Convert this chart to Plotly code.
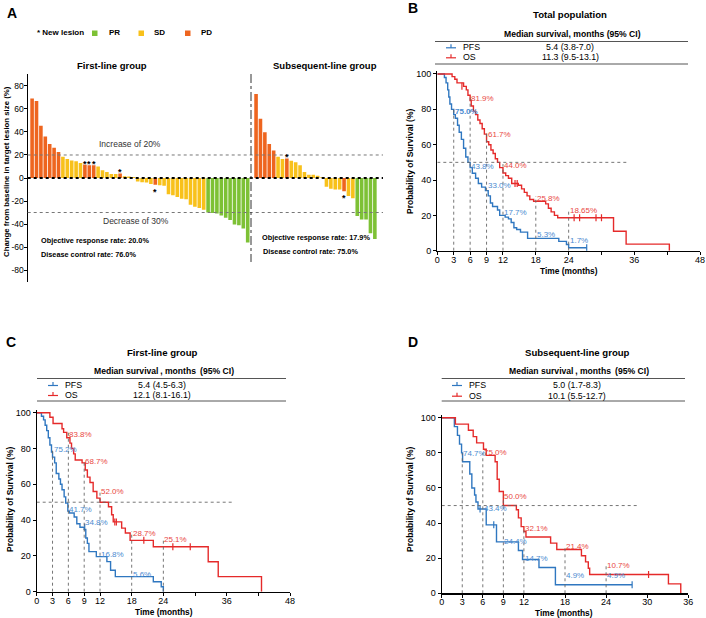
import plotly.graph_objects as go

W, H = 706, 618
FONT = "Liberation Sans, Arial, sans-serif"

# ---------------- Panel A : waterfall data ----------------
first_change = [69, 67, 45.5, 36, 29.5, 26.3, 22.6, 18.5, 16.5, 15.3, 14.5, 13, 11.6, 11, 11, 10.1,
                6.7, 5.2, 3.5, 3.5, 4, 1.5, 1.2, 0.8,
                -3, -3.7, -4, -5.2, -5.8, -6.2, -6.8, -14.2, -15, -16.5, -18, -18.5, -23.2, -25, -26, -27.5,
                -30, -30.5, -30.8, -32.5, -34.5, -36.5, -40.5, -41, -44, -56]
first_response = ("PD PD PD PD PD PD PD SD SD SD SD SD PD PD PD SD SD SD SD SD PD SD SD SD "
                  "SD SD SD SD PD SD SD SD SD SD SD SD SD SD SD SD "
                  "PR PR PR PR PR PR PR PR PR PR").split()
first_new_lesion = [12, 13, 14, 20, 28]

sub_change = [73, 51.6, 39.7, 29.6, 23.8, 18.5, 16.5, 17, 15, 13.6, 11, 5.2, 2.9, 2.9, 2, 0.6,
              -7.5, -9.3, -10, -10, -11.5, -15.6, -17.6, -33, -36, -36, -48, -53]
sub_response = ("PD PD PD PD PD SD SD PD SD SD SD SD SD SD SD SD "
                "SD SD SD SD PD SD SD PR PR PR PR PR").split()
sub_new_lesion = [7, 20]

y_ticks_A = [-80, -60, -40, -20, 0, 20, 40, 60, 80]
threshold_up, threshold_down = 20, -30

# ---------------- Panel B : total population ----------------
B_pfs_t = [0, 1.3, 1.6, 1.9, 2.1, 2.3, 2.6, 3.0, 3.3, 3.7, 4.0, 4.4, 4.8, 5.2, 5.6, 6.0, 6.4, 7.0, 7.5, 8.1,
           8.8, 9.3, 9.7, 10.1, 11.0, 11.4, 12.4, 13.0, 13.5, 14.0, 14.5, 15.2, 16.5, 22.2, 23.6, 24.0, 27.3]
B_pfs_s = [100, 98, 95, 91, 87, 83, 80, 77, 75, 71, 67, 63, 58, 53, 50, 47, 43.8, 41, 38, 36,
           34, 31, 27, 25, 23, 20, 19, 18, 16, 13, 12, 10.5, 7, 5.3, 3.5, 1.7, 1.7]
B_os_t = [0, 2.7, 3.2, 3.6, 4.8, 5.3, 5.6, 6.0, 6.2, 6.6, 7.0, 7.4, 7.8, 8.2, 8.6, 9.0, 9.4, 9.8, 10.2, 10.6,
          11.0, 11.4, 12.0, 12.5, 13.0, 13.6, 14.8, 15.4, 15.9, 16.4, 16.9, 17.6, 19.8, 20.3, 20.8, 21.4,
          22.0, 32.2, 34.5, 42.4]
B_os_s = [100, 98.5, 97, 95, 93, 91, 88, 85, 81.9, 79, 77, 74, 72, 69, 66, 61.7, 60, 57, 55, 52,
          50, 47, 44, 42.5, 41, 38, 37, 35, 33, 31, 29, 28, 26.5, 24, 22, 20,
          18.65, 11, 3.7, 0]
B_pfs_cens_t, B_pfs_cens_s = [27.3], [1.7]
B_os_cens_t = [4.5, 14.2, 14.6, 25.0, 26.0, 29.0, 30.0]
B_os_cens_s = [93, 38, 38, 18.65, 18.65, 18.65, 18.65]
B_pfs_marks_t = [3, 6, 9, 12, 18, 24]
B_pfs_marks = ["<b>75.0%</b>", "43.8%", "33.0%", "17.7%", "5.3%", "1.7%"]
B_os_marks_t = [6, 9, 12, 18, 24]
B_os_marks = ["81.9%", "61.7%", "44.0%", "25.8%", "18.65%"]
B_median = ["5.4 (3.8-7.0)", "11.3 (9.5-13.1)"]

# ---------------- Panel C : first-line group ----------------
C_pfs_t = [0, 0.9, 1.3, 1.6, 1.9, 2.2, 2.5, 2.8, 3.0, 3.4, 3.7, 4.2, 4.5, 4.8, 5.2, 5.5, 5.9, 6.2, 7.1, 7.6,
           8.2, 9.0, 9.3, 9.6, 9.9, 11.3, 13.3, 14.0, 14.9, 22.1, 23.6, 24.0]
C_pfs_s = [100, 98, 96, 93, 90, 86, 82, 78, 75.2, 72, 66, 63, 60, 57, 53, 49.5, 45, 44, 41.7, 38,
           36, 34.8, 30, 27, 22.4, 19.6, 16.8, 12, 8.4, 5.6, 2.8, 0]
C_os_t = [0, 2.5, 3.1, 4.8, 5.1, 5.7, 6.3, 6.6, 7.0, 7.3, 8.6, 9.2, 9.6, 10.1, 10.7, 11.4, 12.0, 13.6, 14.2,
          14.5, 16.1, 16.8, 17.7, 22.1, 32.5, 34.4, 42.6]
C_os_s = [100, 97.5, 94, 91, 89, 86, 83, 80, 77, 73.6, 72, 68, 64, 61, 56, 52.3, 50, 47.5, 43,
          39, 35.5, 32.8, 28.7, 25.1, 16.7, 8.4, 0]
C_pfs_cens_t, C_pfs_cens_s = [9.1], [36]
C_os_cens_t = [14.8, 15.1, 20.3, 25.8, 29.1]
C_os_cens_s = [39, 39, 28.7, 25.1, 25.1]
C_pfs_marks_t = [3, 6, 9, 12, 18]
C_pfs_marks = ["75.2%", "41.7%", "34.8%", "16.8%", "5.6%"]
C_os_marks_t = [6, 9, 12, 18, 24]
C_os_marks = ["83.8%", "68.7%", "52.0%", "28.7%", "25.1%"]
C_median = ["5.4 (4.5-6.3)", "12.1 (8.1-16.1)"]

# ---------------- Panel D : subsequent-line group ----------------
D_pfs_t = [0, 1.85, 2.3, 2.6, 2.9, 3.05, 4.1, 4.4, 4.8, 5.0, 5.3, 6.5, 8.0, 11.2, 11.8, 14.2, 16.6, 27.8]
D_pfs_s = [100, 95, 90, 85, 80, 75, 68, 60, 56, 52, 48, 39, 29.3, 24.4, 19.3, 14.7, 4.9, 4.9]
D_os_t = [0, 2.0, 3.9, 4.6, 5.1, 6.1, 6.5, 7.8, 8.1, 8.4, 9.0, 10.9, 11.2, 11.6, 12.0, 12.3, 15.9, 16.8,
          20.4, 21.0, 21.4, 21.6, 33.1, 34.9]
D_os_s = [100, 96.4, 92.9, 89.3, 85.7, 82.1, 78.6, 75, 65, 58, 50, 47.6, 43, 38, 35.2, 32.1, 28.6, 25,
          21.4, 17.9, 14.3, 10.7, 5.4, 0]
D_pfs_cens_t, D_pfs_cens_s = [5.6, 7.6, 27.8], [48, 39, 4.9]
D_os_cens_t, D_os_cens_s = [30.2], [10.7]
D_pfs_marks_t = [3, 6, 9, 12, 18, 24]
D_pfs_marks = ["74.7%", "43.4%", "24.4%", "14.7%", "4.9%", "4.9%"]
D_os_marks_t = [6, 9, 12, 18, 24]
D_os_marks = ["75.0%", "50.0%", "32.1%", "21.4%", "10.7%"]
D_median = ["5.0 (1.7-8.3)", "10.1 (5.5-12.7)"]

# ---------------- styling ----------------
RESP_COLORS = {"PR": "#7DC135", "SD": "#F8C11B", "PD": "#EE651F"}
BLUE, RED = "#2F77C0", "#E52A2A"
BLUE_T, RED_T = "#4B8BD0", "#E9473F"
GRID = "#666666"


def px_x(p):
    return p / W


def px_y(p):
    return 1 - p / H


def pct(lab):
    return float(lab.replace("<b>", "").replace("</b>", "").rstrip("%"))


fig = go.Figure()
shapes, annos = [], []


def text(px, py, s, size=9, bold=False, xanchor="center", color="black", angle=0):
    annos.append(dict(xref="paper", yref="paper", x=px_x(px), y=px_y(py), text=f"<b>{s}</b>" if bold else s,
                      showarrow=False, xanchor=xanchor, yanchor="middle", textangle=angle,
                      font=dict(size=size, color=color, family=FONT)))


def pline(x0, y0, x1, y1, color="black", width=1, dash="solid"):
    shapes.append(dict(type="line", xref="paper", yref="paper", x0=px_x(x0), y0=px_y(y0), x1=px_x(x1),
                       y1=px_y(y1), line=dict(color=color, width=width, dash=dash)))


# ---------------- Panel A ----------------
group_gap = 0.9
first_x = list(range(len(first_change)))
sub_x = [len(first_change) + group_gap + j for j in range(len(sub_change))]
for xs, vals, resp, stars in [(first_x, first_change, first_response, first_new_lesion),
                              (sub_x, sub_change, sub_response, sub_new_lesion)]:
    fig.add_trace(go.Bar(x=xs, y=vals, width=0.82, marker=dict(color=[RESP_COLORS[r] for r in resp], line_width=0),
                         xaxis="x", yaxis="y", hoverinfo="skip"))
    for i in stars:
        v = vals[i]
        annos.append(dict(xref="x", yref="y", x=xs[i], y=v, text="<b>*</b>", showarrow=False,
                          yanchor="bottom" if v > 0 else "top", yshift=-6 if v > 0 else 0,
                          font=dict(size=9, color="black", family=FONT)))

divider_x = len(first_change) - 0.25
for lvl in (threshold_up, threshold_down):
    shapes.append(dict(type="line", xref="x domain", yref="y", x0=0, x1=1, y0=lvl, y1=lvl,
                       line=dict(color="#777777", width=1, dash="dot")))
shapes.append(dict(type="line", xref="x domain", yref="y", x0=0, x1=1, y0=0, y1=0,
                   line=dict(color="black", width=1.8, dash="dot")))
shapes.append(dict(type="line", xref="x", yref="y", x0=divider_x, x1=divider_x, y0=90.4, y1=-73,
                   line=dict(color="#333333", width=1, dash="dashdot")))

text(12, 13, "A", 14, True)
text(35, 33, "* New lesion", 8, True, "left")
for sq_x, lab_x, key in [(92, 107, "PR"), (138.5, 152, "SD"), (185, 199, "PD")]:
    shapes.append(dict(type="rect", xref="paper", yref="paper", x0=px_x(sq_x), x1=px_x(sq_x + 5.5),
                       y0=px_y(36), y1=px_y(30.5), fillcolor=RESP_COLORS[key], line_width=0))
    text(lab_x, 33, key, 8, True, "left")
text(112, 65, "First-line group", 9.5, True)
text(325, 65, "Subsequent-line group", 9.5, True)
text(130, 144, "Increase of 20%", 8.5, False, color="#333333")
text(136, 221, "Decrease of 30%", 8.5, False, color="#333333")
text(39, 240.5, "Objective response rate: 20.0%", 7.3, True, "left")
text(39, 254.5, "Disease control rate: 76.0%", 7.3, True, "left")
text(260, 237.5, "Objective response rate: 17.9%", 7.3, True, "left")
text(261, 251.5, "Disease control rate: 75.0%", 7.3, True, "left")
text(6, 172, "Change from baseline in target lesion size (%)", 7.8, True, angle=-90)

axis_common = dict(showline=True, linecolor="black", linewidth=1.2, ticks="outside", ticklen=3, tickwidth=1,
                   tickcolor="black", showgrid=False, zeroline=False, fixedrange=True,
                   tickfont=dict(size=9, family=FONT, color="black"))

layout_axes = dict(
    xaxis=dict(domain=[px_x(27.7), px_x(383)], range=[-1.0, 79.75], visible=False, fixedrange=True),
    yaxis=dict(domain=[px_y(282), px_y(74)], range=[-90.4, 90.4], anchor="x",
               tickvals=y_ticks_A, ticktext=[str(v) for v in y_ticks_A], ticklabelstandoff=-2,
               **{**axis_common, "tickfont": dict(size=8.5, family=FONT, color="black")}),
)


# ---------------- KM panels ----------------
def km_panel(k, xdom, ydom_bottom, ydom_top_100, unit_px, xmax, xt, xtt, curves, cens, marks, median,
             letter, title, header, letter_xy, title_y, table_x, table_rows_y, sym_x, ytitle_x, ytitle_y,
             xtitle_xy, fifty_end, label_dy):
    xa, ya = f"x{k}", f"y{k}"
    ytop = 101.5
    layout_axes[f"xaxis{k}"] = dict(domain=[px_x(xdom[0]), px_x(xdom[1])], range=[0, xmax], anchor=ya,
                                    tickvals=xt, ticktext=xtt, ticklabelstandoff=-3, **axis_common)
    layout_axes[f"yaxis{k}"] = dict(domain=[px_y(ydom_bottom), px_y(ydom_top_100 - (ytop - 100) * unit_px)],
                                    range=[0, ytop], anchor=xa, tickvals=[0, 20, 40, 60, 80, 100],
                                    **axis_common)
    # reference lines
    shapes.append(dict(type="line", xref=xa, yref=ya, x0=0, x1=fifty_end, y0=50, y1=50,
                       line=dict(color=GRID, width=0.9, dash="dot")))
    heights = {}
    for (mt, ml, col) in marks:
        for t, lab in zip(mt, ml):
            heights[t] = max(heights.get(t, 0), pct(lab))
    for t, hgt in heights.items():
        shapes.append(dict(type="line", xref=xa, yref=ya, x0=t, x1=t, y0=0, y1=hgt + 5,
                           line=dict(color=GRID, width=0.9, dash="dot")))
    for (t, s, col) in curves:
        fig.add_trace(go.Scatter(x=t, y=s, mode="lines", line=dict(color=col, width=1.4, shape="hv"),
                                 xaxis=xa, yaxis=ya, hoverinfo="skip"))
    for (t, s, col) in cens:
        fig.add_trace(go.Scatter(x=t, y=s, mode="markers", xaxis=xa, yaxis=ya, hoverinfo="skip",
                                 marker=dict(symbol="line-ns", size=5, line=dict(color=col, width=1.2))))
    for (mt, ml, col) in marks:
        for t, lab in zip(mt, ml):
            annos.append(dict(xref=xa, yref=ya, x=t, y=pct(lab) + label_dy, text=lab,
                              showarrow=False, xanchor="left", yanchor="middle", xshift=-1,
                              font=dict(size=8, color=col, family=FONT)))
    # titles / table
    text(letter_xy[0], letter_xy[1], letter, 14, True)
    text(table_x[2], title_y, title, 9.6, True)
    text(table_x[2] + 2, title_y + 18.5, header, 8.6, True)
    pline(table_x[0], title_y + 26.5, table_x[1], title_y + 26.5, "#555555", 1)
    pline(table_x[0], title_y + 49, table_x[1], title_y + 49, "#555555", 1)
    for (ry, name, col, med) in zip(table_rows_y, ["PFS", "OS"], [BLUE, RED], median):
        pline(sym_x, ry + 0.5, sym_x + 10, ry + 0.5, col, 1.2)
        pline(sym_x + 5, ry + 0.5, sym_x + 5, ry - 3, col, 1.2)
        text(sym_x + 15, ry, name, 8.8, False, "left")
        text(table_x[2], ry, med, 8.8, False)
    text(ytitle_x, ytitle_y, "Probability of Survival (%)", 8.5, True, angle=-90)
    text(xtitle_xy[0], xtitle_xy[1], "Time (months)", 8.4, True)


km_panel(2, (437.3, 700), 250.7, 74, 1.767, 48,
         [0, 3, 6, 9, 12, 18, 24, 30, 36, 42, 48], ["0", "3", "6", "9", "12", "18", "24", "", "36", "", "48"],
         [(B_pfs_t, B_pfs_s, BLUE), (B_os_t, B_os_s, RED)],
         [(B_pfs_cens_t, B_pfs_cens_s, BLUE), (B_os_cens_t, B_os_cens_s, RED)],
         [(B_pfs_marks_t, B_pfs_marks, BLUE_T), (B_os_marks_t, B_os_marks, RED_T)],
         B_median, "B", "Total population", "Median survival, months (95% CI)",
         (413, 8), 15, (435, 688, 570), (47.3, 57.3), 446,
         410, 162, (569, 271), 34.7, 4)

km_panel(3, (36.7, 290), 591.7, 412.7, 1.79, 48,
         [0, 3, 6, 9, 12, 18, 24, 30, 36, 42, 48], ["0", "3", "6", "9", "12", "18", "24", "", "36", "", "48"],
         [(C_pfs_t, C_pfs_s, BLUE), (C_os_t, C_os_s, RED)],
         [(C_pfs_cens_t, C_pfs_cens_s, BLUE), (C_os_cens_t, C_os_cens_s, RED)],
         [(C_pfs_marks_t, C_pfs_marks, BLUE_T), (C_os_marks_t, C_os_marks, RED_T)],
         C_median, "C", "First-line group", "Median survival\u2009, months \u2009(95% CI)",
         (11, 342), 352, (37, 286, 162), (385, 395), 48,
         10, 500, (164, 612), 37.3, 4)

km_panel(4, (441.7, 688.3), 593.3, 417.8, 1.755, 36,
         [0, 3, 6, 9, 12, 18, 24, 30, 36], ["0", "3", "6", "9", "12", "18", "24", "30", "36"],
         [(D_pfs_t, D_pfs_s, BLUE), (D_os_t, D_os_s, RED)],
         [(D_pfs_cens_t, D_pfs_cens_s, BLUE), (D_os_cens_t, D_os_cens_s, RED)],
         [(D_pfs_marks_t, D_pfs_marks, BLUE_T), (D_os_marks_t, D_os_marks, RED_T)],
         D_median, "D", "Subsequent-line group", "Median survival\u2009, months \u2009(95% CI)",
         (413, 342), 352, (441.7, 685, 577), (385, 395.7), 452,
         410, 500, (564, 612.5), 28.7, 5)

fig.update_layout(
    template="none", width=W, height=H, margin=dict(l=0, r=0, t=0, b=0),
    paper_bgcolor="white", plot_bgcolor="rgba(0,0,0,0)", showlegend=False, barmode="overlay",
    font=dict(family=FONT, color="black", size=9), hovermode=False,
    shapes=shapes, annotations=annos, **layout_axes,
)
fig.write_html("out.html", config={"displayModeBar": False, "staticPlot": True},
               post_script="document.body.style.margin='0';document.body.style.overflow='hidden';")
